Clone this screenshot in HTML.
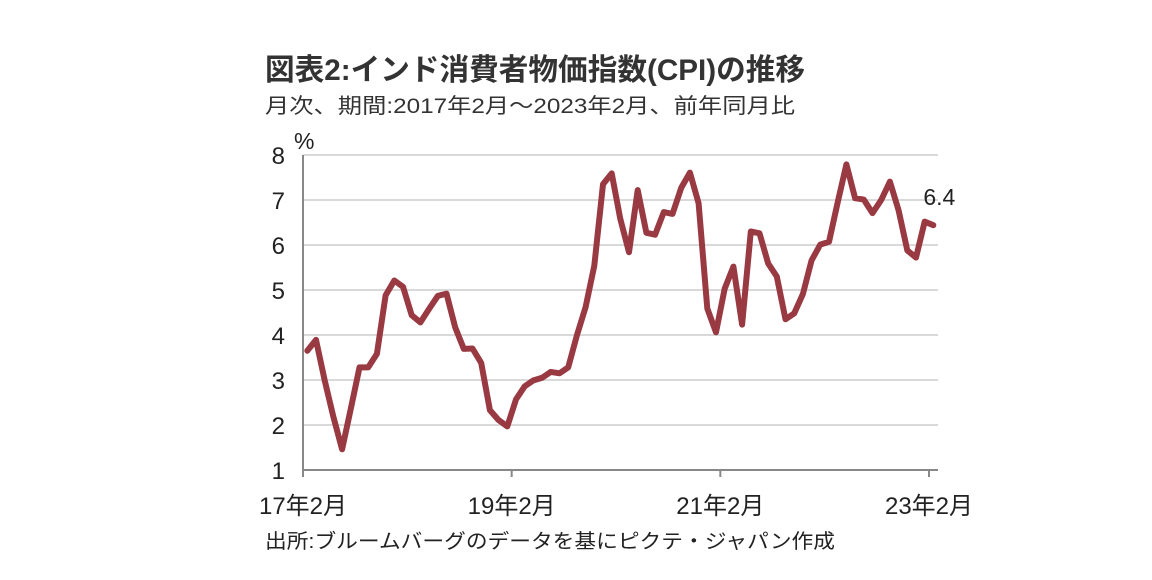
<!DOCTYPE html>
<html><head><meta charset="utf-8"><style>
html,body{margin:0;padding:0;background:#fff;}
svg{display:block;font-family:"Liberation Sans","Noto Sans CJK JP",sans-serif;}
</style></head><body>
<svg id="chart" width="1152" height="580" viewBox="0 0 1152 580">
<text x="265" y="80" font-size="30" font-weight="bold" fill="#333" textLength="540" lengthAdjust="spacingAndGlyphs">図表2:インド消費者物価指数(CPI)の推移</text>
<text x="265" y="113" font-size="21" fill="#333" textLength="530" lengthAdjust="spacingAndGlyphs">月次、期間:2017年2月～2023年2月、前年同月比</text>
<text x="294" y="149" font-size="23" fill="#222">%</text>
<g id="grid"></g><g id="axes"></g><g id="series"></g>
<text x="265" y="548" font-size="20" fill="#222" textLength="570" lengthAdjust="spacingAndGlyphs">出所:ブルームバーグのデータを基にピクテ・ジャパン作成</text>
</svg>
<script>
const values = [3.65,3.89,2.99,2.18,1.46,2.36,3.28,3.28,3.58,4.88,5.21,
5.07,4.44,4.28,4.58,4.87,4.92,4.17,3.69,3.70,3.38,2.33,2.11,
1.97,2.57,2.86,2.99,3.05,3.18,3.15,3.28,3.99,4.62,5.54,7.35,
7.59,6.58,5.84,7.22,6.27,6.23,6.73,6.69,7.27,7.61,6.93,4.59,
4.06,5.03,5.52,4.23,6.30,6.26,5.59,5.30,4.35,4.48,4.91,5.66,
6.01,6.07,6.95,7.79,7.04,7.01,6.71,7.00,7.41,6.77,5.88,5.72,
6.52,6.44];
const yTicks = [1,2,3,4,5,6,7,8];
const xTickLabels = ["17年2月","19年2月","21年2月","23年2月"];
const xTickIndex = [0,24,48,72];
const endLabel = "6.4";

const NS="http://www.w3.org/2000/svg";
const X0=303,X1=929,Y1=470,Y8=155;
const n=values.length;
const step=(X1-X0)/(n-1);
const xPos=i=>X0+(i+0.5)*step;
const xTick=i=>X0+i*step;
const yPos=v=>Y1-(v-1)*(Y1-Y8)/7;
function mk(tag,attrs,parent){const e=document.createElementNS(NS,tag);for(const k in attrs)e.setAttribute(k,attrs[k]);parent.appendChild(e);return e;}
const grid=document.getElementById('grid'),axes=document.getElementById('axes'),series=document.getElementById('series');
yTicks.forEach(v=>{
  if(v>1){const l=mk('line',{x1:X0,x2:938,y1:yPos(v),y2:yPos(v),stroke:'#d9d9d9','stroke-width':2},grid);
  
  }
  const t=mk('text',{x:285,y:yPos(v)+9,'font-size':24,fill:'#222','text-anchor':'end'},axes);
  t.textContent=v;
  
  
});
const ya=mk('line',{x1:X0,x2:X0,y1:Y8,y2:Y1+6,stroke:'#888','stroke-width':2},axes);


const xa=mk('line',{x1:X0,x2:938,y1:Y1,y2:Y1,stroke:'#888','stroke-width':2},axes);


xTickIndex.forEach((ix,k)=>{
  const x=xTick(ix);
  const tk=mk('line',{x1:x,x2:x,y1:Y1,y2:Y1+7,stroke:'#888','stroke-width':2},axes);
  
  
  const t=mk('text',{x:x,y:514,'font-size':24,fill:'#222','text-anchor':'middle'},axes);
  t.textContent=xTickLabels[k];
  
  
});
const pts=values.map((v,i)=>xPos(i).toFixed(1)+','+yPos(v).toFixed(1)).join(' ');
const pl=mk('polyline',{points:pts,fill:'none',stroke:'#993a43','stroke-width':6,'stroke-linejoin':'round','stroke-linecap':'round'},series);


const el=mk('text',{x:xPos(n-1)-10,y:yPos(values[n-1])-20,'font-size':23,fill:'#222'},series);
el.textContent=endLabel;


</script>
</body></html>
